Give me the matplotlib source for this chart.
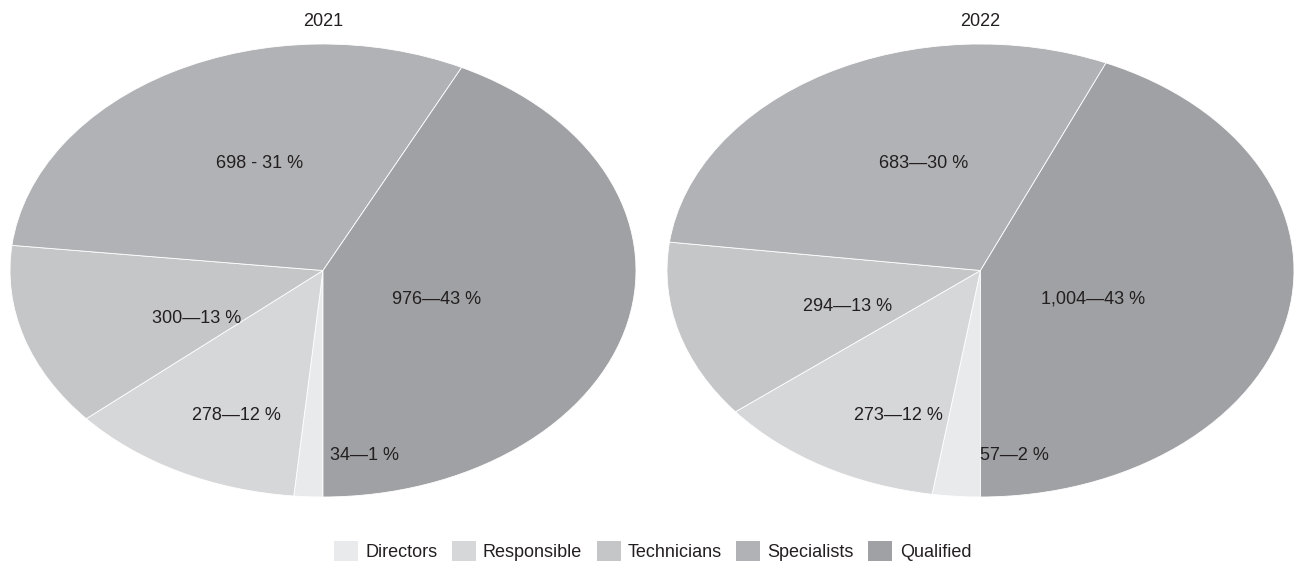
import matplotlib.pyplot as plt
from matplotlib.patches import Patch

plt.rcParams['font.family'] = ['Liberation Sans', 'DejaVu Sans']

categories = ['Directors', 'Responsible', 'Technicians', 'Specialists', 'Qualified']
years = ['2021', '2022']
values_2021 = [34, 278, 300, 698, 976]
values_2022 = [57, 273, 294, 683, 1004]
# separator used between count and share in each label
seps_2021 = ['—', '—', '—', ' - ', '—']
seps_2022 = ['—', '—', '—', '—', '—']

colors = ['#e9eaec', '#d6d7d9', '#c5c6c8', '#b1b2b5', '#a0a1a4']

# label anchors inside the ellipse (pie data units)
label_pos = [
    [(0.134, -0.815), (-0.275, -0.638), (-0.403, -0.210), (-0.204, 0.474), (0.364, -0.126)],
    [(0.107, -0.815), (-0.263, -0.638), (-0.423, -0.161), (-0.183, 0.474), (0.359, -0.126)],
]

fig = plt.figure(figsize=(13.05, 5.66), dpi=100)
axes_rects = [
    [10 / 1305, 69 / 566, 626 / 1305, 453 / 566],
    [667 / 1305, 69 / 566, 627 / 1305, 453 / 566],
]

for i, (yr, vals, seps) in enumerate(zip(years, [values_2021, values_2022], [seps_2021, seps_2022])):
    ax = fig.add_axes(axes_rects[i])
    ax.pie(vals, colors=colors, startangle=-90, counterclock=False, radius=1,
           wedgeprops=dict(edgecolor='white', linewidth=0.6))
    ax.set_aspect('auto')
    ax.set_xlim(-1, 1)
    ax.set_ylim(-1, 1)
    ax.axis('off')
    total = sum(vals)
    for v, s, (x, y) in zip(vals, seps, label_pos[i]):
        pct = round(100 * v / total)
        ax.text(x, y, f'{v:,}{s}{pct} %', ha='center', va='center',
                fontsize=13, color='#231f20')
    r = axes_rects[i]
    fig.text(r[0] + r[2] / 2, 1 - 21.5 / 566, yr, ha='center', va='center',
             fontsize=13, color='#231f20')

handles = [Patch(facecolor=c, edgecolor='none') for c in colors]
fig.legend(handles, categories, loc='center', bbox_to_anchor=(0.5, 15 / 566),
           ncol=5, frameon=False, fontsize=13, handlelength=1.33, handleheight=1.33,
           handletextpad=0.4, columnspacing=0.8, labelcolor='#231f20',
           borderpad=0, borderaxespad=0)

fig.savefig('out.png', dpi=100)
